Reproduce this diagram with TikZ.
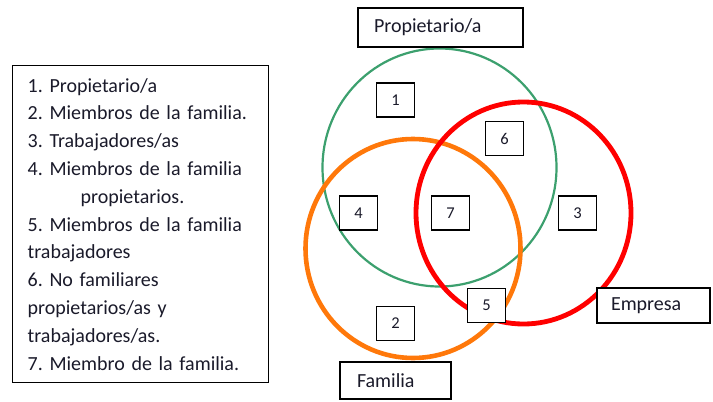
\documentclass[tikz,border=0pt]{standalone}
\usepackage{fontspec}
\setmainfont{Carlito}
\frenchspacing
\usetikzlibrary{shapes.geometric}
\definecolor{ownergreen}{HTML}{3CA06E}
\definecolor{familyorange}{HTML}{FF780A}
\definecolor{companyred}{HTML}{FF0000}
\definecolor{inkdark}{HTML}{1A1A2A}
\tikzset{
  x=1pt, y=-1pt,
  font=\fontsize{20}{27.8}\selectfont,
  box/.style={
    draw,
    fill=white,
    line width=1.4pt,
    text=inkdark,
    inner ysep=0pt
  },
  numbox/.style={box, minimum width=38pt, minimum height=34pt,
    inner xsep=0pt, font=\fontsize{16.5}{18}\selectfont},
  tagbox/.style={box, align=left},
  set/.style={ellipse, inner sep=0pt}
}

\begin{document}
\begin{tikzpicture}
  \useasboundingbox (0,0) rectangle (713,402);

  \node[box, anchor=north west, minimum width=256pt, minimum height=317pt,
        inner xsep=15pt, text width=226pt, align=left] (legend) at (12,65)
    {1. Propietario/a\\
     2. Miembros de la familia.\\
     3. Trabajadores/as\\
     4. Miembros de la familia\\
     \hspace*{53pt}propietarios.\\
     5. Miembros de la familia\\
     trabajadores\\
     6. No familiares\\
     propietarios/as y\\
     trabajadores/as.\\
     7. Miembro de la familia.};

  \node[set, draw=ownergreen, line width=2.2pt,
        minimum width=234pt, minimum height=238pt] (owners) at (439.5,167.5) {};
  \node[set, draw=familyorange, line width=4.6pt,
        minimum width=215pt, minimum height=219pt] (family) at (413,248.5) {};
  \node[set, draw=companyred, line width=4.8pt,
        minimum width=215pt, minimum height=222pt] (company) at (523.5,213) {};

  \node[numbox] (n1) at (395.5,100) {1};
  \node[numbox] (n6) at (504.5,138.5) {6};
  \node[numbox] (n4) at (358.5,213) {4};
  \node[numbox] (n7) at (450.5,213) {7};
  \node[numbox] (n3) at (577.5,213) {3};
  \node[numbox] (n5) at (486.5,305.5) {5};
  \node[numbox] (n2) at (395.5,323.5) {2};

  \node[tagbox, minimum width=165pt, minimum height=39pt,
        inner xsep=16pt, text width=133pt] (ownerstag) at (440.5,27.5)
    {Propietario/a};
  \node[tagbox, minimum width=113pt, minimum height=35pt,
        inner xsep=14pt, text width=85pt] (companytag) at (653.5,305.5)
    {Empresa};
  \node[tagbox, minimum width=111pt, minimum height=37pt,
        inner xsep=17pt, text width=77pt] (familytag) at (395.5,380.5)
    {Familia};
\end{tikzpicture}
\end{document}
